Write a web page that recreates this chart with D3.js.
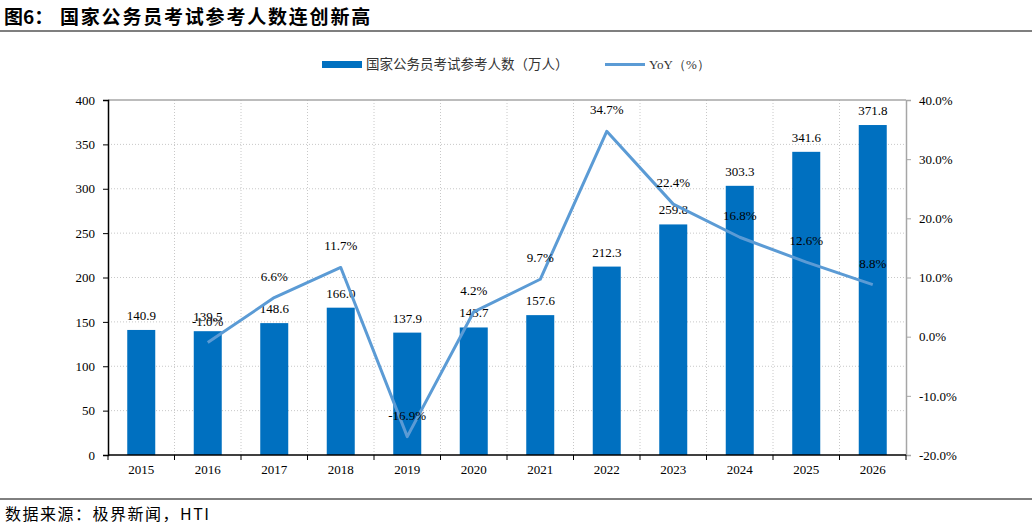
<!DOCTYPE html>
<html>
<head>
<meta charset="utf-8">
<script src="https://cdn.jsdelivr.net/npm/d3@7"></script>
<style>
  body { margin: 0; background: #fff; }
  svg { display: block; }
</style>
</head>
<body>
<div id="chart"></div>
<script>
const years = ["2015", "2016", "2017", "2018", "2019", "2020", "2021", "2022", "2023", "2024", "2025", "2026"];
const applicants = [140.9, 139.5, 148.6, 166.0, 137.9, 143.7, 157.6, 212.3, 259.8, 303.3, 341.6, 371.8];
const yoy = [null, -1.0, 6.6, 11.7, -16.9, 4.2, 9.7, 34.7, 22.4, 16.8, 12.6, 8.8];
const leftTicks = [0, 50, 100, 150, 200, 250, 300, 350, 400];
const rightTicks = [-20, -10, 0, 10, 20, 30, 40];

const W = 1032, H = 526;
const serif = "'Liberation Serif', 'Times New Roman', serif";
const cjk = "'Noto Sans CJK SC', sans-serif";

const svg = d3.select("#chart").append("svg").attr("width", W).attr("height", H);

// Title + rule
svg.append("text")
  .attr("x", 4).attr("y", 24)
  .attr("font-family", cjk).attr("font-weight", "bold").attr("font-size", "19px")
  .attr("fill", "#000")
  .text("图6：");
svg.append("text")
  .attr("x", 60).attr("y", 24)
  .attr("font-family", cjk).attr("font-weight", "bold").attr("font-size", "19px")
  .attr("letter-spacing", "1.8px")
  .attr("fill", "#000")
  .text("国家公务员考试参考人数连创新高");
svg.append("line").attr("x1", 0).attr("x2", W).attr("y1", 31).attr("y2", 31)
  .attr("stroke", "#7f7f7f").attr("stroke-width", 2);

// Plot area
const pLeft = 108, pRight = 906, pTop = 100, pBottom = 455;

const x = d3.scaleBand().domain(years).range([pLeft, pRight]).paddingInner(0).paddingOuter(0);
const y = d3.scaleLinear().domain([0, 400]).range([pBottom, pTop]);
const y2 = d3.scaleLinear().domain([-20, 40]).range([pBottom, pTop]);
const barW = 28;

// Horizontal grid
svg.append("g")
  .selectAll("line").data(leftTicks.filter(d => d > 0 && d < 400)).join("line")
  .attr("x1", pLeft).attr("x2", pRight)
  .attr("y1", d => y(d)).attr("y2", d => y(d))
  .attr("stroke", "#c8c8c8").attr("stroke-dasharray", "1,2");

// Vertical grid at category boundaries
svg.append("g")
  .selectAll("line").data(years.slice(1)).join("line")
  .attr("x1", d => x(d)).attr("x2", d => x(d))
  .attr("y1", pTop).attr("y2", pBottom)
  .attr("stroke", "#c8c8c8").attr("stroke-dasharray", "1,2");

// Top border
svg.append("line").attr("x1", pLeft).attr("x2", pRight).attr("y1", pTop).attr("y2", pTop)
  .attr("stroke", "#a6a6a6").attr("stroke-width", 1.5);

// Bars
svg.append("g")
  .selectAll("rect").data(applicants).join("rect")
  .attr("x", (d, i) => x(years[i]) + x.bandwidth() / 2 - barW / 2)
  .attr("y", d => y(d))
  .attr("width", barW)
  .attr("height", d => pBottom - y(d))
  .attr("fill", "#0070C0");

// Bar labels
svg.append("g")
  .selectAll("text").data(applicants).join("text")
  .attr("x", (d, i) => x(years[i]) + x.bandwidth() / 2)
  .attr("y", d => y(d) - 10)
  .attr("text-anchor", "middle")
  .attr("font-family", serif).attr("font-size", "13px").attr("fill", "#000")
  .text(d => d.toFixed(1));

// YoY line
const pts = yoy.map((v, i) => ({ year: years[i], v })).filter(d => d.v !== null);
const line = d3.line()
  .x(d => x(d.year) + x.bandwidth() / 2)
  .y(d => y2(d.v));
svg.append("path").datum(pts)
  .attr("d", line)
  .attr("fill", "none")
  .attr("stroke", "#5B9BD5")
  .attr("stroke-width", 3)
  .attr("stroke-linejoin", "round");

svg.append("g")
  .selectAll("text").data(pts).join("text")
  .attr("x", d => x(d.year) + x.bandwidth() / 2)
  .attr("y", d => y2(d.v) - 17)
  .attr("text-anchor", "middle")
  .attr("font-family", serif).attr("font-size", "13px").attr("fill", "#000")
  .text(d => d.v.toFixed(1) + "%");

// Left axis
const axL = svg.append("g")
  .attr("transform", `translate(${pLeft},0)`)
  .call(d3.axisLeft(y).tickValues(leftTicks).tickSize(5).tickPadding(8));
axL.select(".domain").attr("stroke", "#000").attr("stroke-width", 1.5);
axL.selectAll(".tick line").attr("stroke", "#000");
axL.selectAll("text").attr("font-family", serif).attr("font-size", "13px").attr("fill", "#000");

// Right axis
const axR = svg.append("g")
  .attr("transform", `translate(${pRight},0)`)
  .call(d3.axisRight(y2).tickValues(rightTicks).tickSize(5).tickPadding(8)
    .tickFormat(d => d.toFixed(1) + "%"));
axR.select(".domain").attr("stroke", "#a6a6a6").attr("stroke-width", 1.5);
axR.selectAll(".tick line").attr("stroke", "#a6a6a6");
axR.selectAll("text").attr("font-family", serif).attr("font-size", "13px").attr("fill", "#000");

// Bottom axis
const axB = svg.append("g")
  .attr("transform", `translate(0,${pBottom})`)
  .call(d3.axisBottom(x).tickSize(0).tickPadding(10));
axB.select(".domain").remove();
axB.selectAll("text").attr("font-family", serif).attr("font-size", "13px").attr("fill", "#000");
svg.append("line").attr("x1", pLeft).attr("x2", pRight).attr("y1", pBottom).attr("y2", pBottom)
  .attr("stroke", "#000").attr("stroke-width", 1.5);
svg.append("g")
  .selectAll("line").data(years.concat(["end"])).join("line")
  .attr("x1", (d, i) => pLeft + i * x.bandwidth())
  .attr("x2", (d, i) => pLeft + i * x.bandwidth())
  .attr("y1", pBottom).attr("y2", pBottom + 5)
  .attr("stroke", "#000");

// Legend
const lg = svg.append("g");
lg.append("rect").attr("x", 322).attr("y", 61).attr("width", 40).attr("height", 7).attr("fill", "#0070C0");
lg.append("text").attr("x", 366).attr("y", 69)
  .attr("font-family", cjk).attr("font-size", "13.5px").attr("fill", "#333")
  .text("国家公务员考试参考人数（万人）");
lg.append("line").attr("x1", 605).attr("x2", 645).attr("y1", 64.5).attr("y2", 64.5)
  .attr("stroke", "#5B9BD5").attr("stroke-width", 3);
lg.append("text").attr("x", 649).attr("y", 69)
  .attr("font-family", serif).attr("font-size", "13px").attr("fill", "#333")
  .text("YoY（%）");

// Source
svg.append("line").attr("x1", 0).attr("x2", W).attr("y1", 499).attr("y2", 499)
  .attr("stroke", "#000").attr("stroke-width", 1);
svg.append("text").attr("x", 5).attr("y", 520)
  .attr("font-family", cjk).attr("font-size", "16px").attr("fill", "#000")
  .attr("letter-spacing", "1.5px")
  .text("数据来源：极界新闻，HTI");
</script>
</body>
</html>
